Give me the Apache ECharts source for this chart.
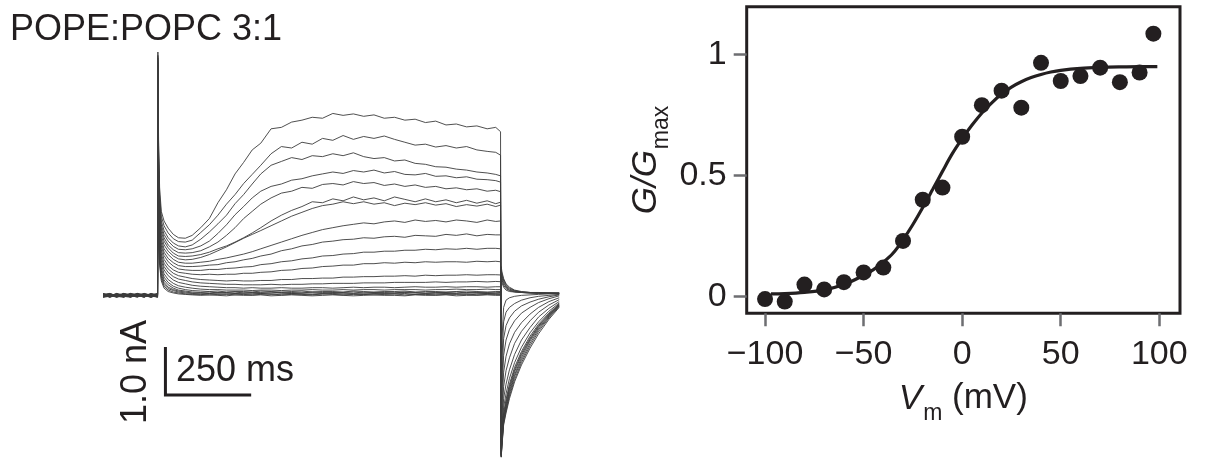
<!DOCTYPE html>
<html><head><meta charset="utf-8">
<script src="https://cdn.jsdelivr.net/npm/echarts@6/dist/echarts.min.js"></script>
<style>html,body{margin:0;padding:0;background:#fff}#c{width:1206px;height:460px}</style>
</head><body><div id="c"></div>
<script>
// ---------- Left panel: current traces (time in ms, current in nA) ----------
const TIME = [-160,-140,-120,-100,-80,-60,-40,-20,-1,
  0,2,5,10,18,30,45,60,80,100,125,150,175,200,225,250,275,300,330,360,390,420,450,480,510,540,570,600,630,660,690,720,750,780,810,840,870,900,930,960,985,999,
  1001,1003,1008,1015,1025,1040,1060,1085,1110,1140,1170];

const TRACE_01 = [-0.03,-0.07,-0.01,-0.08,-0.04,-0.06,-0.02,-0.09,-0.05,
  5.02,3.2,2.2,1.7,1.5,1.35,1.22,1.15,1.14,1.2, 1.36,1.55,1.88,2.15,2.48,2.72,2.98,3.12,
  3.42,3.45,3.56,3.6,3.66,3.64,3.74,3.7,3.73,3.68, 3.71,3.64,3.66,3.6,3.62,3.55,3.58,3.5,3.52,3.46, 3.48,3.42,3.45,3.36,
  -3.42,-3.2,-2.75,-2.5,-2.2,-1.85,-1.5,-1.15,-0.85,-0.55,-0.3];
const TRACE_02 = [-0.06,-0.02,-0.08,-0.03,-0.07,-0.01,-0.05,-0.04,-0.08,
  4.95,3.0,2.05,1.6,1.4,1.25,1.13,1.07,1.06,1.1, 1.26,1.42,1.62,1.85,2.05,2.28,2.47,2.66,
  2.9,3.05,3.02,3.14,3.1,3.22,3.18,3.28,3.2,3.26, 3.22,3.27,3.2,3.14,3.08,3.1,3.04,3.07,3.02,3.05, 2.98,2.95,2.93,2.87,
  -3.42,-3.18,-2.72,-2.46,-2.15,-1.8,-1.45,-1.1,-0.8,-0.52,-0.28];
const TRACE_03 = [-0.01,-0.05,-0.03,-0.09,-0.02,-0.07,-0.04,-0.03,-0.06,
  4.9,2.9,1.95,1.5,1.3,1.15,1.04,0.98,0.96,1.0, 1.12,1.27,1.44,1.62,1.86,2.05,2.27,2.48,
  2.66,2.74,2.82,2.78,2.86,2.84,2.9,2.86,2.92,2.84, 2.8,2.82,2.75,2.77,2.7,2.68,2.63,2.62,2.58,2.56, 2.52,2.5,2.47,2.44,
  -3.4,-3.15,-2.68,-2.42,-2.1,-1.74,-1.4,-1.05,-0.76,-0.5,-0.27];
const TRACE_04 = [-0.08,-0.04,-0.06,-0.02,-0.09,-0.03,-0.07,-0.05,-0.02,
  4.85,2.8,1.85,1.42,1.22,1.08,0.97,0.91,0.9,0.92, 0.98,1.08,1.24,1.42,1.63,1.8,1.98,2.12,
  2.22,2.27,2.35,2.38,2.44,2.48,2.52,2.49,2.55,2.52, 2.56,2.5,2.53,2.47,2.46,2.49,2.43,2.44,2.4,2.42, 2.37,2.36,2.34,2.31,
  -3.4,-3.12,-2.64,-2.38,-2.05,-1.7,-1.35,-1.0,-0.73,-0.48,-0.26];
const TRACE_05 = [-0.04,-0.09,-0.02,-0.06,-0.03,-0.08,-0.01,-0.07,-0.04,
  4.8,2.7,1.78,1.35,1.15,1.0,0.9,0.84,0.83,0.84, 0.88,0.96,1.06,1.2,1.36,1.55,1.7,1.85,
  1.98,2.08,2.12,2.2,2.18,2.26,2.28,2.25,2.32,2.28, 2.3,2.24,2.27,2.22,2.25,2.2,2.22,2.17,2.19,2.15, 2.17,2.12,2.14,2.11,
  -3.38,-3.1,-2.6,-2.33,-2.0,-1.64,-1.3,-0.97,-0.7,-0.46,-0.25];
const TRACE_06 = [-0.07,-0.03,-0.05,-0.01,-0.06,-0.04,-0.09,-0.02,-0.07,
  4.75,2.6,1.7,1.28,1.08,0.94,0.83,0.77,0.76,0.77, 0.8,0.85,0.92,0.98,1.06,1.15,1.25,1.36,
  1.5,1.62,1.72,1.8,1.9,1.88,1.96,1.92,2.0,1.94, 1.98,1.92,2.0,1.95,1.9,1.96,1.9,1.94,1.88,1.93, 1.87,1.92,1.86,1.89,
  -3.38,-3.05,-2.55,-2.28,-1.95,-1.6,-1.26,-0.94,-0.68,-0.44,-0.24];
const TRACE_07 = [-0.02,-0.06,-0.04,-0.07,-0.01,-0.05,-0.03,-0.08,-0.03,
  4.7,2.5,1.62,1.2,1.0,0.87,0.77,0.71,0.69,0.7, 0.74,0.8,0.88,0.96,1.05,1.14,1.22,1.3,
  1.4,1.5,1.6,1.68,1.76,1.82,1.85,1.9,1.86,1.9, 1.85,1.88,1.82,1.87,1.84,1.88,1.83,1.86,1.8,1.84, 1.81,1.85,1.8,1.83,
  -3.36,-3.0,-2.5,-2.22,-1.9,-1.55,-1.22,-0.9,-0.65,-0.42,-0.23];
const TRACE_08 = [-0.05,-0.01,-0.07,-0.04,-0.08,-0.02,-0.06,-0.01,-0.04,
  4.65,2.4,1.55,1.12,0.92,0.8,0.7,0.64,0.62,0.62, 0.64,0.66,0.7,0.73,0.77,0.81,0.86,0.92,
  0.99,1.06,1.13,1.2,1.26,1.32,1.36,1.4,1.43,1.46, 1.44,1.48,1.5,1.47,1.52,1.49,1.51,1.48,1.52,1.5, 1.47,1.52,1.49,1.5,
  -3.35,-2.9,-2.38,-2.1,-1.78,-1.45,-1.13,-0.83,-0.6,-0.38,-0.21];
const TRACE_09 = [-0.09,-0.05,-0.03,-0.06,-0.02,-0.07,-0.04,-0.06,-0.09,
  4.6,2.3,1.48,1.05,0.85,0.72,0.63,0.57,0.55,0.55, 0.56,0.58,0.59,0.63,0.65,0.69,0.72,0.77,
  0.81,0.88,0.92,0.98,1.01,1.06,1.08,1.11,1.12,1.15, 1.14,1.17,1.18,1.16,1.2,1.19,1.18,1.22,1.2,1.23, 1.19,1.22,1.21,1.21,
  -3.3,-2.8,-2.2,-1.9,-1.6,-1.28,-0.98,-0.72,-0.5,-0.32,-0.18];
const TRACE_10 = [-0.03,-0.08,-0.06,-0.02,-0.05,-0.09,-0.02,-0.04,-0.01,
  4.55,2.2,1.4,0.98,0.78,0.65,0.56,0.5,0.48,0.47, 0.47,0.49,0.49,0.51,0.52,0.54,0.55,0.59,
  0.61,0.65,0.67,0.71,0.73,0.77,0.78,0.81,0.82,0.85, 0.85,0.87,0.87,0.89,0.89,0.91,0.9,0.92,0.91,0.93, 0.91,0.93,0.93,0.92,
  -3.25,-2.6,-1.95,-1.62,-1.35,-1.05,-0.8,-0.58,-0.4,-0.25,-0.14];
const TRACE_11 = [-0.06,-0.03,-0.09,-0.05,-0.04,-0.01,-0.07,-0.03,-0.06,
  4.5,2.1,1.32,0.9,0.7,0.57,0.48,0.43,0.41,0.39, 0.38,0.39,0.38,0.39,0.39,0.41,0.41,0.43,
  0.44,0.47,0.48,0.51,0.52,0.55,0.56,0.58,0.58,0.61, 0.61,0.63,0.62,0.64,0.63,0.65,0.64,0.65,0.65,0.64, 0.66,0.65,0.66,0.65,
  -3.2,-2.4,-1.65,-1.32,-1.06,-0.82,-0.62,-0.44,-0.3,-0.18,-0.1];
const TRACE_12 = [-0.01,-0.06,-0.02,-0.08,-0.06,-0.03,-0.05,-0.09,-0.03,
  4.45,2.0,1.25,0.82,0.62,0.5,0.41,0.36,0.33,0.3, 0.28,0.27,0.26,0.25,0.26,0.25,0.25,0.26,
  0.26,0.28,0.28,0.3,0.3,0.31,0.31,0.33,0.33,0.34, 0.34,0.35,0.35,0.36,0.35,0.37,0.36,0.37,0.37,0.38, 0.37,0.38,0.38,0.375,
  -3.1,-2.1,-1.3,-0.98,-0.76,-0.58,-0.42,-0.3,-0.2,-0.12,-0.06];
const TRACE_13 = [-0.07,-0.04,-0.08,-0.01,-0.03,-0.06,-0.08,-0.02,-0.05,
  4.4,1.9,1.18,0.75,0.55,0.43,0.34,0.29,0.26,0.23, 0.21,0.2,0.19,0.18,0.18,0.17,0.17,0.17,
  0.18,0.17,0.18,0.18,0.19,0.19,0.2,0.2,0.2,0.21, 0.21,0.21,0.22,0.22,0.22,0.22,0.23,0.22,0.23,0.23, 0.24,0.23,0.24,0.235,
  -3.0,-1.8,-0.95,-0.68,-0.52,-0.38,-0.27,-0.19,-0.13,-0.08,-0.04];
const TRACE_14 = [-0.04,-0.02,-0.05,-0.07,-0.09,-0.04,-0.01,-0.06,-0.08,
  4.35,1.8,1.1,0.68,0.48,0.36,0.27,0.22,0.19,0.16, 0.14,0.13,0.12,0.11,0.11,0.1,0.11,0.1,
  0.1,0.11,0.1,0.1,0.11,0.11,0.1,0.11,0.12,0.11, 0.12,0.12,0.11,0.12,0.13,0.12,0.12,0.13,0.12,0.13, 0.13,0.12,0.13,0.13,
  -2.8,-1.4,-0.6,-0.4,-0.3,-0.22,-0.15,-0.1,-0.07,-0.05,-0.03];
const TRACE_15 = [-0.08,-0.06,-0.01,-0.04,-0.07,-0.02,-0.06,-0.05,-0.02,
  4.3,1.7,1.02,0.6,0.4,0.28,0.2,0.15,0.12,0.1, 0.08,0.07,0.07,0.06,0.06,0.06,0.05,0.06,
  0.06,0.05,0.06,0.06,0.07,0.06,0.06,0.07,0.06,0.07, 0.07,0.06,0.07,0.07,0.07,0.06,0.07,0.07,0.08,0.07, 0.07,0.08,0.07,0.07,
  -2.5,-1.0,-0.3,-0.15,-0.1,-0.07,-0.05,-0.04,-0.03,-0.02,-0.02];
const TRACE_16 = [-0.02,-0.09,-0.04,-0.03,-0.06,-0.08,-0.03,-0.07,-0.04,
  4.25,1.6,0.95,0.52,0.33,0.22,0.14,0.1,0.07,0.05, 0.04,0.03,0.04,0.02,0.03,0.03,0.02,0.04,
  0.03,0.02,0.03,0.04,0.02,0.03,0.03,0.02,0.04,0.03, 0.02,0.03,0.03,0.04,0.02,0.03,0.03,0.02,0.03,0.04, 0.03,0.02,0.03,0.03,
  0.3,0.22,0.12,0.06,0.03,0.02,0.01,0.0,0.0,-0.01,-0.01];
const TRACE_17 = [-0.05,-0.03,-0.07,-0.09,-0.02,-0.05,-0.09,-0.01,-0.07,
  4.2,1.5,0.88,0.46,0.27,0.17,0.1,0.06,0.04,0.02, 0.01,0.02,0.0,0.01,0.02,0.0,0.01,0.01,
  0.02,0.0,0.01,0.0,0.02,0.01,0.0,0.01,0.02,0.0, 0.01,0.01,0.0,0.02,0.01,0.0,0.01,0.01,0.02,0.0, 0.01,0.01,0.0,0.01,
  0.35,0.28,0.16,0.09,0.05,0.02,0.01,0.0,-0.01,0.0,-0.01];
const TRACE_18 = [-0.09,-0.07,-0.03,-0.05,-0.08,-0.01,-0.04,-0.08,-0.03,
  4.15,1.4,0.8,0.4,0.22,0.12,0.07,0.04,0.02,0.0, 0.0,-0.01,0.01,0.0,-0.01,0.0,0.0,-0.01,
  0.0,0.01,-0.01,0.0,0.0,-0.01,0.01,0.0,-0.01,0.0, 0.0,-0.01,0.0,0.01,0.0,-0.01,0.0,0.0,-0.01,0.01, 0.0,-0.01,0.0,0.0,
  0.4,0.32,0.2,0.12,0.06,0.03,0.01,0.0,0.0,-0.01,0.0];
const TRACE_19 = [-0.03,-0.01,-0.06,-0.02,-0.05,-0.07,-0.02,-0.04,-0.06,
  4.1,1.3,0.72,0.35,0.18,0.09,0.05,0.02,0.0,-0.01, -0.02,-0.01,-0.02,-0.03,-0.01,-0.02,-0.02,-0.01,
  -0.03,-0.02,-0.01,-0.02,-0.03,-0.02,-0.01,-0.02,-0.02,-0.03, -0.01,-0.02,-0.02,-0.01,-0.03,-0.02,-0.02,-0.01,-0.02,-0.03, -0.02,-0.01,-0.02,-0.02,
  0.45,0.36,0.24,0.14,0.08,0.04,0.02,0.01,0.0,0.0,-0.01];
const TRACE_20 = [-0.06,-0.08,-0.02,-0.07,-0.01,-0.04,-0.08,-0.03,-0.09,
  4.05,1.2,0.65,0.3,0.14,0.06,0.02,0.0,-0.02,-0.03, -0.03,-0.04,-0.03,-0.02,-0.04,-0.03,-0.04,-0.03,
  -0.02,-0.04,-0.03,-0.03,-0.04,-0.02,-0.03,-0.04,-0.03,-0.03, -0.04,-0.03,-0.02,-0.04,-0.03,-0.03,-0.04,-0.03,-0.03,-0.02, -0.04,-0.03,-0.03,-0.03,
  0.5,0.4,0.27,0.17,0.1,0.05,0.02,0.01,0.0,0.0,0.0];
const TRACE_21 = [-0.04,-0.05,-0.09,-0.03,-0.07,-0.03,-0.05,-0.09,-0.01,
  4.0,1.1,0.58,0.25,0.1,0.03,0.0,-0.02,-0.03,-0.04, -0.05,-0.04,-0.05,-0.06,-0.04,-0.05,-0.05,-0.04,
  -0.06,-0.05,-0.04,-0.05,-0.06,-0.05,-0.04,-0.05,-0.06,-0.05, -0.04,-0.05,-0.05,-0.06,-0.04,-0.05,-0.05,-0.04,-0.06,-0.05, -0.05,-0.04,-0.05,-0.05,
  0.55,0.44,0.3,0.19,0.12,0.06,0.03,0.01,0.01,0.0,0.0];

const TRACES = [TRACE_01,TRACE_02,TRACE_03,TRACE_04,TRACE_05,TRACE_06,TRACE_07,TRACE_08,TRACE_09,TRACE_10,
  TRACE_11,TRACE_12,TRACE_13,TRACE_14,TRACE_15,TRACE_16,TRACE_17,TRACE_18,TRACE_19,TRACE_20,TRACE_21];

// scale bar: 1.0 nA and 250 ms
const SCALE_T0 = 22, SCALE_I0 = -2.125, SCALE_DT = 250, SCALE_DI = 1.0;

// ---------- Right panel: G/Gmax vs Vm ----------
const VM     = [-100,-90,-80,-70,-60,-50,-40,-30,-20,-10,0,10,20,30,40,50,60,70,80,90,97];
const G_NORM = [-0.01,-0.02,0.05,0.03,0.06,0.10,0.12,0.23,0.40,0.45,0.66,0.79,0.85,0.78,0.965,0.89,0.91,0.945,0.885,0.925,1.085];
const FIT_VM = [-97,-90,-80,-70,-60,-50,-45,-40,-35,-30,-25,-20,-15,-10,-5,0,5,10,15,20,25,30,35,40,45,50,60,70,80,90,99];
const FIT_G  = [0.012,0.013,0.018,0.028,0.05,0.088,0.112,0.142,0.18,0.235,0.298,0.368,0.442,0.517,0.59,0.652,0.708,0.758,0.8,0.836,0.865,0.887,0.904,0.917,0.927,0.934,0.942,0.946,0.948,0.949,0.949];
const X_TICKS = [-100,-50,0,50,100];
const Y_TICKS = [0,0.5,1];

const FONT = 'Liberation Sans, Arial, Helvetica, sans-serif';
const INK = '#231f20';

const chart = echarts.init(document.getElementById('c'), null, {renderer:'canvas'});

const traceSeries = TRACES.map(vals => ({
  type:'line', xAxisIndex:0, yAxisIndex:0,
  data: TIME.map((t,i) => [t, vals[i]]),
  symbol:'none', showSymbol:false, silent:true,
  lineStyle:{color:'#3b3b3b', width:0.9}, z:2
}));

const richSub = {
  i:{fontFamily:FONT, fontSize:35, fontStyle:'italic', color:INK, lineHeight:34, verticalAlign:'top'},
  n:{fontFamily:FONT, fontSize:35, color:INK, lineHeight:34, verticalAlign:'top'},
  s:{fontFamily:FONT, fontSize:23, color:INK, lineHeight:44, padding:[0,0,0,1], verticalAlign:'bottom'}
};

chart.setOption({
  animation:false,
  backgroundColor:'#ffffff',
  grid:[
    {left:103, top:40, width:456.2, height:420},
    {left:746.7, top:6.7, width:433.3, height:306.6, show:true, borderColor:INK, borderWidth:3, backgroundColor:'transparent'}
  ],
  xAxis:[
    {type:'value', gridIndex:0, min:-160, max:1170, show:false},
    {type:'value', gridIndex:1, min:-109.3, max:110.5, position:'bottom',
     axisLine:{show:false, onZero:false}, splitLine:{show:false},
     axisTick:{show:true, length:13, customValues:X_TICKS, lineStyle:{color:'#6d6e71', width:2.5}},
     axisLabel:{customValues:X_TICKS, fontFamily:FONT, fontSize:34, color:INK, margin:24,
       formatter:v => v < 0 ? '\u2212' + Math.abs(v) : String(v)},
     name:'{i|V}{s|m}{n| (mV)}', nameLocation:'middle', nameGap:68,
     nameTextStyle:{rich:richSub}}
  ],
  yAxis:[
    {type:'value', gridIndex:0, min:-3.48, max:5.27, show:false},
    {type:'value', gridIndex:1, min:-0.0685, max:1.1964, position:'left',
     axisLine:{show:false, onZero:false}, splitLine:{show:false},
     axisTick:{show:true, length:13, customValues:Y_TICKS, lineStyle:{color:'#6d6e71', width:2.5}},
     axisLabel:{customValues:Y_TICKS, fontFamily:FONT, fontSize:34, color:INK, margin:20,
       formatter:v => String(v)},
     name:'{i|G/G}{s|max}', nameLocation:'middle', nameRotate:90, nameGap:74,
     nameTextStyle:{rich:richSub}}
  ],
  graphic:[
    {type:'text', left:10, top:12, style:{text:'POPE:POPC 3:1', font:'36px ' + FONT, fill:INK}},
    {type:'text', x:176, y:371, style:{text:'250 ms', font:'36px ' + FONT, fill:INK, textAlign:'left', textVerticalAlign:'middle'}},
    {type:'text', x:136, y:372, rotation:Math.PI/2, style:{text:'1.0 nA', font:'36px ' + FONT, fill:INK, textAlign:'center', textVerticalAlign:'middle'}}
  ],
  series: traceSeries.concat([
    {type:'line', xAxisIndex:0, yAxisIndex:0, symbol:'none', silent:true, z:3,
     data:[[SCALE_T0, SCALE_I0 + SCALE_DI],[SCALE_T0, SCALE_I0],[SCALE_T0 + SCALE_DT, SCALE_I0]],
     lineStyle:{color:INK, width:3, cap:'butt', join:'miter'}},
    {type:'line', xAxisIndex:1, yAxisIndex:1, symbol:'none', smooth:0.35, silent:true, z:3,
     data:FIT_VM.map((v,i) => [v, FIT_G[i]]),
     lineStyle:{color:INK, width:3.2}},
    {type:'scatter', xAxisIndex:1, yAxisIndex:1, symbol:'circle', symbolSize:16, silent:true, z:4,
     data:VM.map((v,i) => [v, G_NORM[i]]),
     itemStyle:{color:INK, opacity:1}}
  ])
});
</script>
</body></html>
